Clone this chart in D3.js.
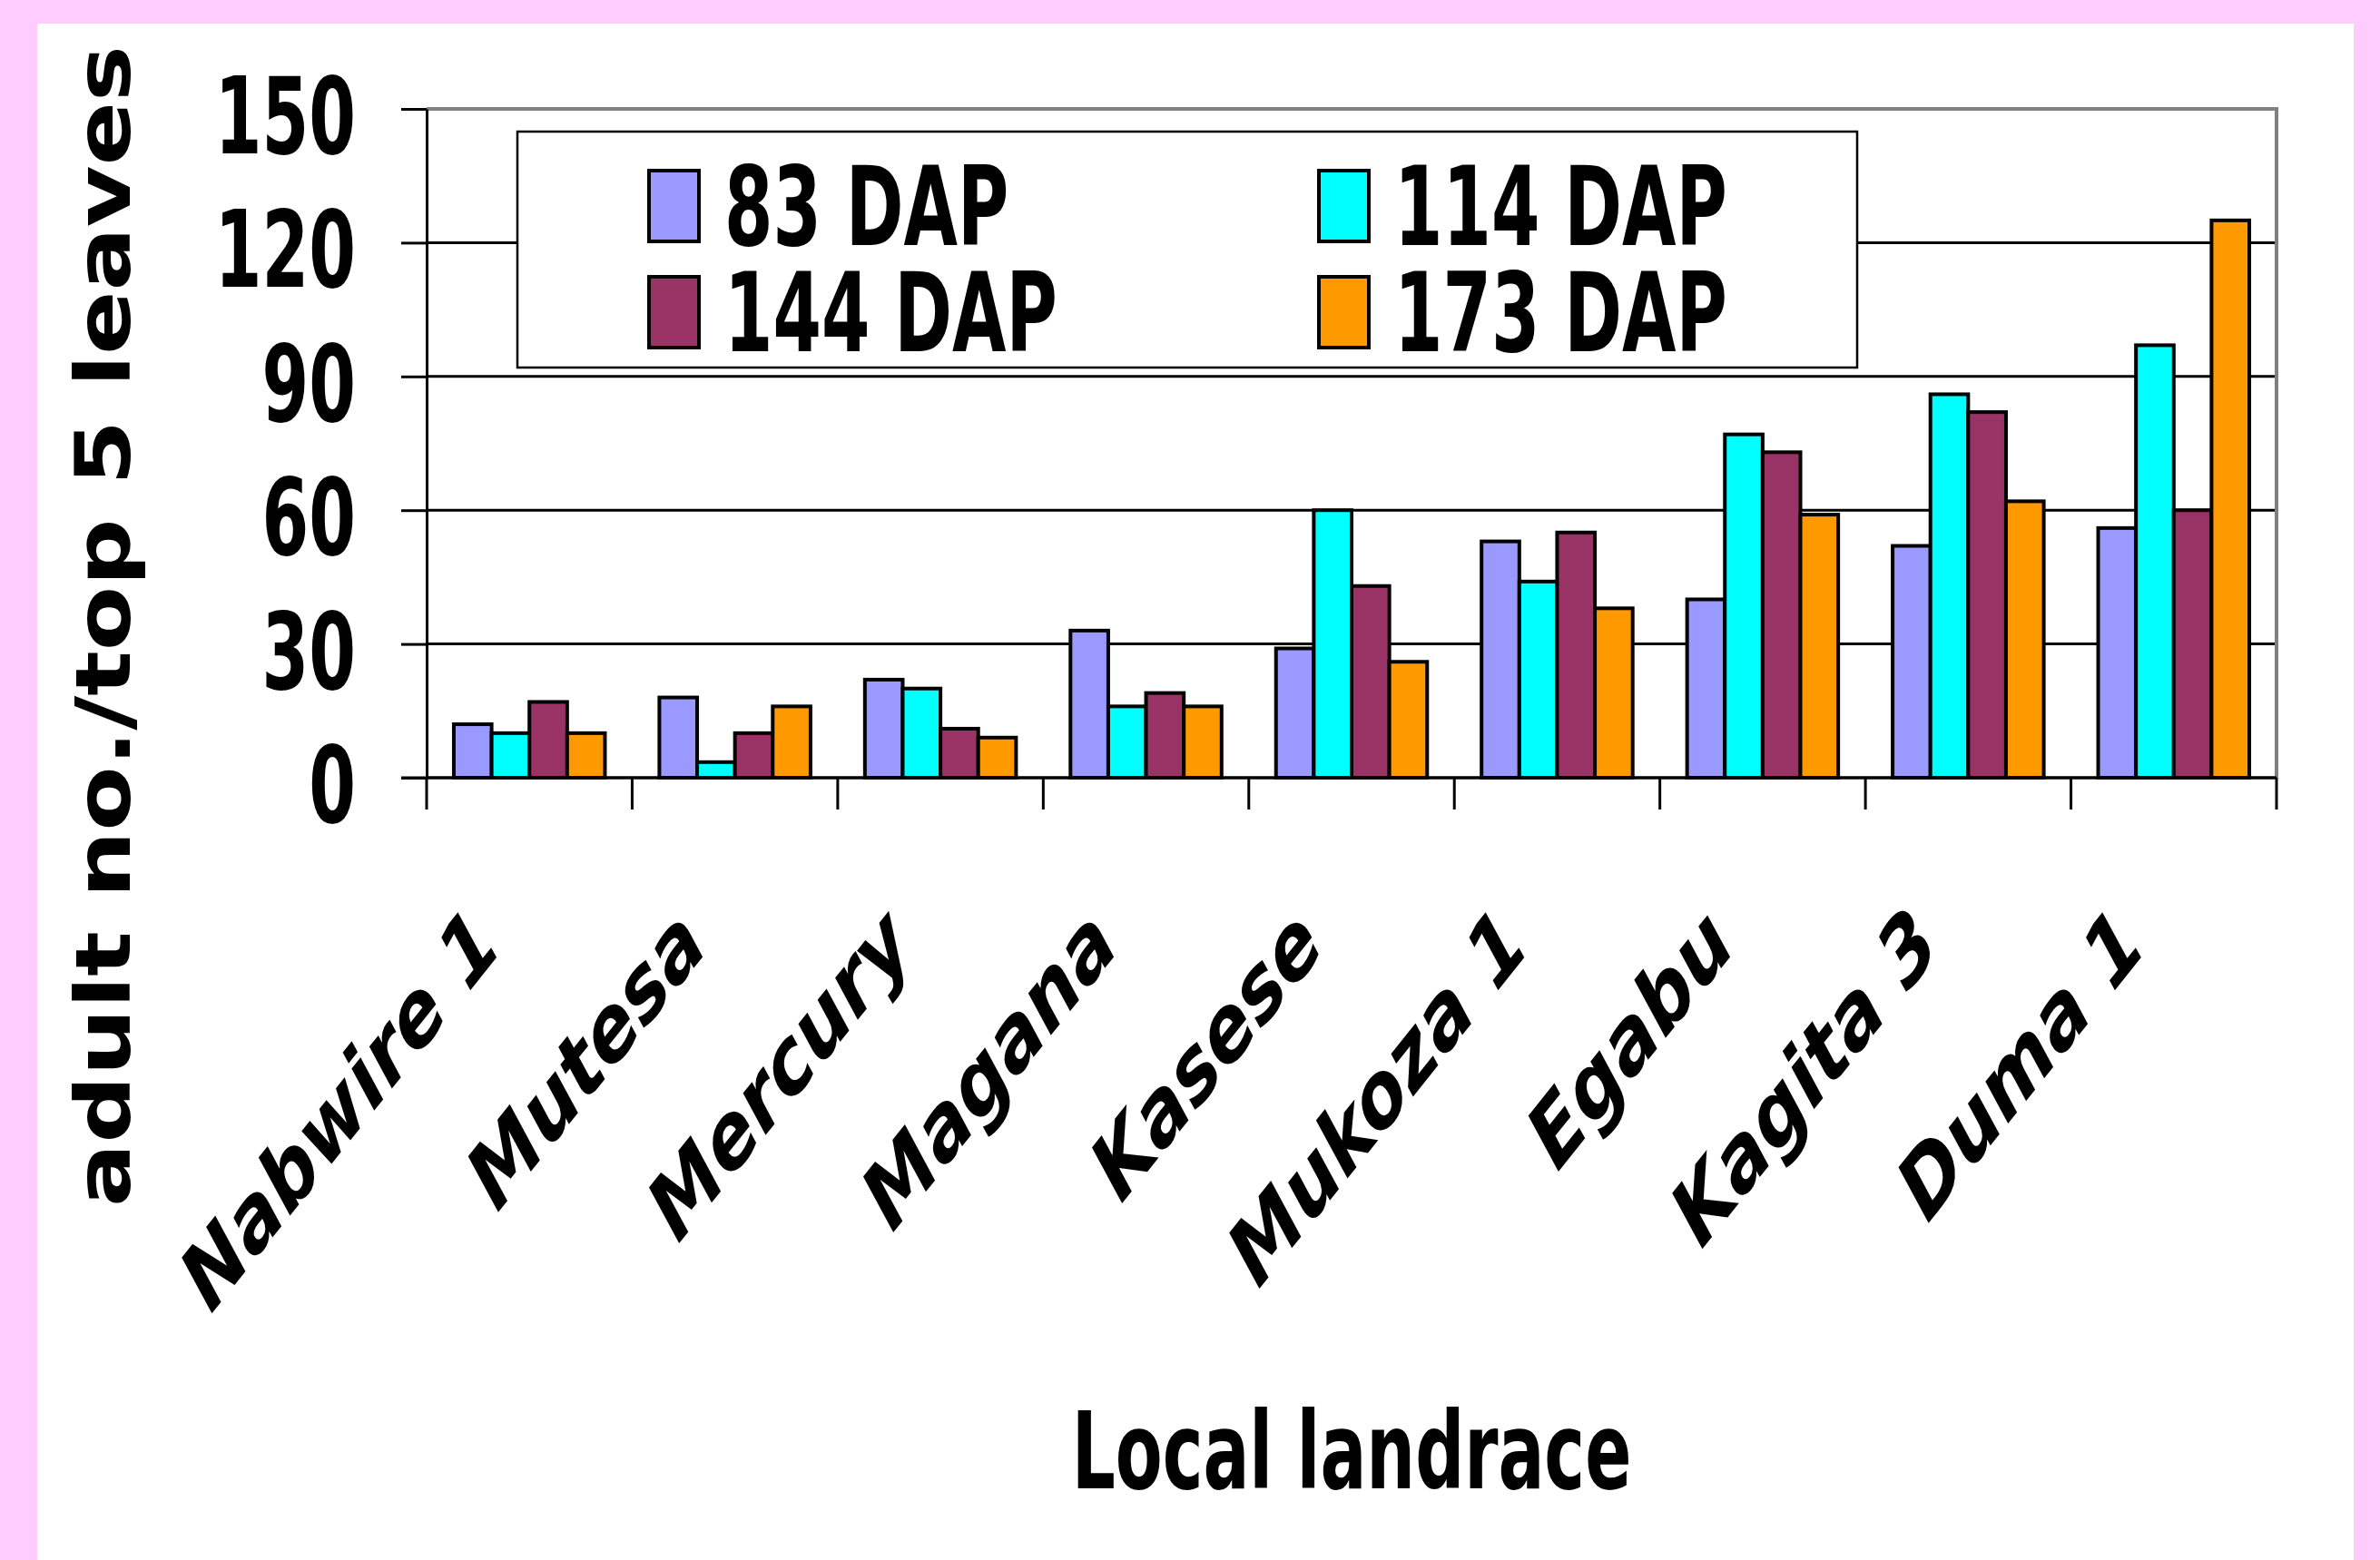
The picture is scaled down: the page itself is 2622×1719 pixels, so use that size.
<!DOCTYPE html>
<html>
<head>
<meta charset="utf-8">
<script src="https://cdn.jsdelivr.net/npm/d3@7"></script>
<style>
  html, body { margin: 0; padding: 0; background: #ffccff; }
  svg { display: block; }
  text { font-family: "DejaVu Sans", Verdana, sans-serif; font-weight: bold; fill: #000; }
</style>
</head>
<body>
<div id="chart"></div>
<script>
// Dados do gráfico
const categories = ['Nabwire 1', 'Mutesa', 'Mercury', 'Magana', 'Kasese', 'Mukoza 1', 'Egabu', 'Kagita 3', 'Duma 1'];
const seriesNames = ['83 DAP', '114 DAP', '144 DAP', '173 DAP'];
const dap83  = [12, 18, 22, 33, 29, 53, 40, 52, 56];
const dap114 = [10, 3.5, 20, 16, 60, 44, 77, 86, 97];
const dap144 = [17, 10, 11, 19, 43, 55, 73, 82, 60];
const dap173 = [10, 16, 9, 16, 26, 38, 59, 62, 125];
const yTicks = [0, 30, 60, 90, 120, 150];
const seriesColors = ['#9999ff', '#00ffff', '#993366', '#ff9900'];

const allSeries = [dap83, dap114, dap144, dap173];

// Configurações
const width = 2622;
const height = 1719;
const plot = { left: 470, right: 2508, top: 120, bottom: 857 };

const svg = d3.select('#chart')
  .append('svg')
  .attr('width', width)
  .attr('height', height);

// Painel branco
svg.append('rect')
  .attr('x', 41).attr('y', 26)
  .attr('width', 2552).attr('height', 1693)
  .attr('fill', '#fff');

// Escalas
const xCat = d3.scaleBand()
  .domain(categories)
  .range([plot.left, plot.right])
  .padding(0);

const xSeries = d3.scaleBand()
  .domain(seriesNames)
  .range([0, xCat.bandwidth()])
  .paddingInner(0)
  .paddingOuter(0.72);

const y = d3.scaleLinear()
  .domain([0, 150])
  .range([plot.bottom, plot.top]);

const color = d3.scaleOrdinal().domain(seriesNames).range(seriesColors);

// Linhas de grade
svg.append('g')
  .selectAll('line')
  .data(yTicks.filter(d => d < 150))
  .enter()
  .append('line')
  .attr('x1', plot.left).attr('x2', plot.right)
  .attr('y1', d => y(d)).attr('y2', d => y(d))
  .attr('stroke', '#000')
  .attr('stroke-width', 3);

// Borda superior e direita (cinza)
svg.append('path')
  .attr('d', `M${plot.left},${y(150)}H${plot.right}V${y(0)}`)
  .attr('fill', 'none')
  .attr('stroke', '#808080')
  .attr('stroke-width', 4);

// Eixo Y
const yAxis = svg.append('g')
  .attr('transform', `translate(${plot.left},0)`)
  .call(d3.axisLeft(y).tickValues(yTicks).tickSize(28).tickSizeOuter(0).tickFormat(''));
yAxis.select('.domain').attr('stroke', '#000').attr('stroke-width', 3);
yAxis.selectAll('.tick line').attr('stroke', '#000').attr('stroke-width', 3);

svg.append('g')
  .selectAll('text')
  .data(yTicks)
  .enter()
  .append('text')
  .attr('transform', d => `translate(392,${y(d) + 6}) scale(0.63,1)`)
  .attr('dy', '0.365em')
  .attr('text-anchor', 'end')
  .style('font-size', '118px')
  .text(d => d);

// Marcas do eixo X (limites das categorias)
const boundaries = categories.map(c => xCat(c)).concat([plot.right]);
svg.append('g')
  .selectAll('line')
  .data(boundaries)
  .enter()
  .append('line')
  .attr('x1', d => d).attr('x2', d => d)
  .attr('y1', plot.bottom).attr('y2', plot.bottom + 35)
  .attr('stroke', '#000')
  .attr('stroke-width', 3);

// Barras
const groups = svg.append('g')
  .selectAll('g')
  .data(categories)
  .enter()
  .append('g')
  .attr('transform', c => `translate(${xCat(c)},0)`);

groups.selectAll('rect')
  .data((c, i) => seriesNames.map((s, j) => ({ series: s, value: allSeries[j][i] })))
  .enter()
  .append('rect')
  .attr('x', d => xSeries(d.series))
  .attr('y', d => y(d.value))
  .attr('width', xSeries.bandwidth())
  .attr('height', d => y(0) - y(d.value))
  .attr('fill', d => color(d.series))
  .attr('stroke', '#000')
  .attr('stroke-width', 4);

// Linha de base
svg.append('line')
  .attr('x1', plot.left - 28).attr('x2', plot.right)
  .attr('y1', y(0)).attr('y2', y(0))
  .attr('stroke', '#000')
  .attr('stroke-width', 3);

// Rótulos das categorias (rotacionados)
svg.append('g')
  .selectAll('text')
  .data(categories)
  .enter()
  .append('text')
  .attr('transform', c => `translate(${xCat(c) + xCat.bandwidth() / 2 - 28},1045) scale(0.8,1) rotate(-45)`)
  .attr('text-anchor', 'end')
  .style('font-size', '100px')
  .style('font-style', 'italic')
  .text(c => c);

// Título do eixo Y
svg.append('text')
  .attr('transform', 'translate(143,690) scale(0.8,1) rotate(-90)')
  .attr('text-anchor', 'middle')
  .style('font-size', '104px')
  .text('adult no./top 5 leaves');

// Título do eixo X
svg.append('text')
  .attr('transform', `translate(${(plot.left + plot.right) / 2},1640) scale(0.64,1)`)
  .attr('text-anchor', 'middle')
  .style('font-size', '118px')
  .text('Local landrace');

// Legenda
const legend = svg.append('g');
legend.append('rect')
  .attr('x', 570).attr('y', 145)
  .attr('width', 1476).attr('height', 260)
  .attr('fill', '#fff')
  .attr('stroke', '#000')
  .attr('stroke-width', 2.5);

const legendCols = [715, 1453];
const legendRows = [188, 305];
const legendItems = legend.selectAll('.legend-item')
  .data(seriesNames)
  .enter()
  .append('g')
  .attr('class', 'legend-item')
  .attr('transform', (d, i) => `translate(${legendCols[i % 2]},${legendRows[Math.floor(i / 2)]})`);

legendItems.append('rect')
  .attr('width', 55).attr('height', 78)
  .attr('fill', d => color(d))
  .attr('stroke', '#000')
  .attr('stroke-width', 4);

legendItems.append('text')
  .attr('transform', 'translate(83,82) scale(0.63,1)')
  .style('font-size', '122px')
  .text(d => d);
</script>
</body>
</html>
